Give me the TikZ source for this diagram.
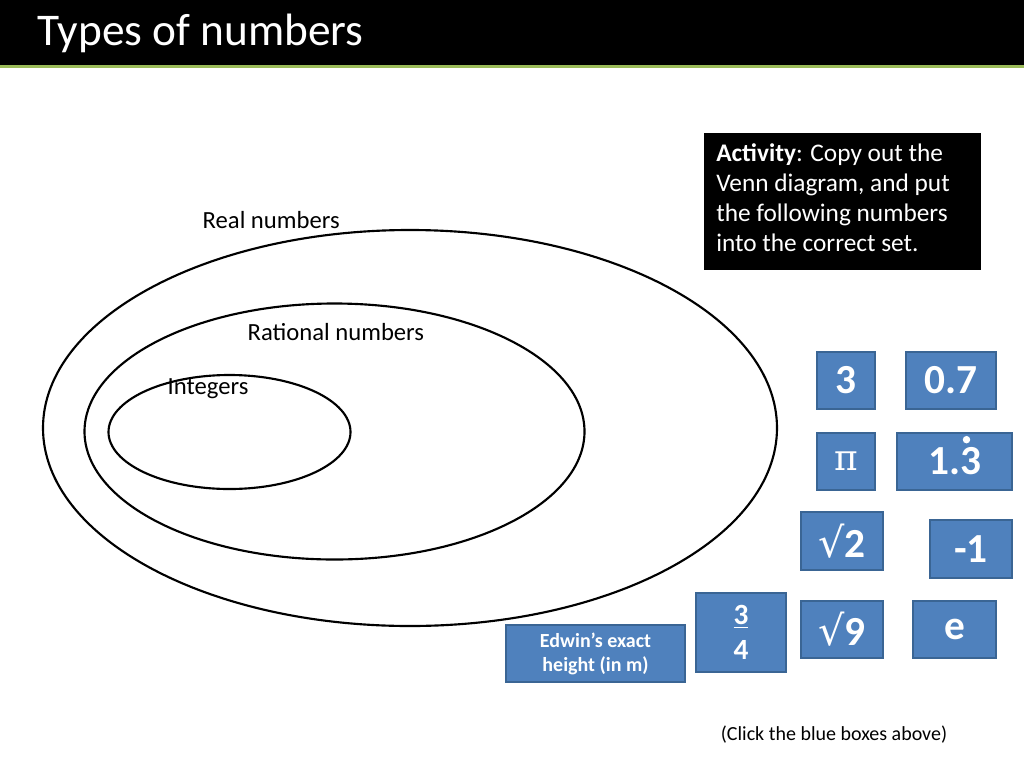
\documentclass[tikz,border=0pt]{standalone}
\usepackage{fontspec}
\setmainfont{Carlito}
\newfontfamily\symfont{DejaVu Serif}
\newfontfamily\rootfont{DejaVu Sans}
\definecolor{bluebox}{HTML}{4F81BD}
\definecolor{blueedge}{HTML}{3A6594}
\definecolor{greenline}{HTML}{9BBB59}
\begin{document}
\begin{tikzpicture}[x=0.75pt,y=-0.75pt,
  nb/.style={draw=blueedge,line width=1.5pt,fill=bluebox,text=white,font=\fontsize{31}{33}\selectfont\bfseries,inner sep=0pt},
  lbl/.style={anchor=west,font=\fontsize{18.5}{22}\selectfont},
  venn/.style={draw=black,line width=1.6pt}]
\useasboundingbox (0,0) rectangle (1024,768);
\fill[black] (0,0) rectangle (1024,65);
\fill[greenline] (0,65) rectangle (1024,68);
\node[anchor=west,text=white,font=\fontsize{34}{38}\selectfont] (title) at (33,33) {Types of numbers};
\node[fill=black,text=white,anchor=north west,minimum width=207.75pt,minimum height=102.75pt,inner sep=0pt] (act) at (704,133) {};
\node[anchor=north west,text=white,align=left,font=\fontsize{19}{22.5}\selectfont,inner sep=0pt] (acttext) at (716,143)
  {\textbf{Activity}: Copy out the\\Venn diagram, and put\\the following numbers\\into the correct set.};
\draw[venn] (410,428) ellipse [x radius=367, y radius=198];
\draw[venn] (334.5,431.5) ellipse [x radius=250, y radius=128];
\draw[venn] (229.5,432) ellipse [x radius=121, y radius=57];
\node[lbl] (real) at (198,220) {Real numbers};
\node[lbl] (rat) at (243,332) {Rational numbers};
\node[lbl] (int) at (163,389) {Integers};
\node[nb,minimum width=43.5pt,minimum height=42.75pt] (b3) at (846,380) {3};
\node[nb,minimum width=67.5pt,minimum height=42.75pt] (b07) at (951,380) {0.7};
\node[nb,minimum width=43.5pt,minimum height=42.75pt] (bpi) at (846,461) {\symfont\mdseries\fontsize{27}{29}\selectfont π};
\node[nb,minimum width=86pt,minimum height=42.75pt] (b13) at (954.5,461) {1.3};
\fill[white] ([xshift=9pt,yshift=16pt]b13.center) circle (2.8pt);
\node[nb,minimum width=61.5pt,minimum height=43.5pt] (bs2) at (842,541) {{\rootfont\mdseries √}2};
\node[nb,minimum width=61.5pt,minimum height=43.5pt] (bm1) at (971,549) {-1};
\node[nb,minimum width=67.5pt,minimum height=59pt,align=center,font=\fontsize{22}{24}\selectfont\bfseries] (b34) at (741,632.5) {\underline{3}\\[2pt]4};
\node[nb,minimum width=61.5pt,minimum height=42.75pt] (bs9) at (842,629.5) {{\rootfont\mdseries √}9};
\node[nb,minimum width=62pt,minimum height=42.75pt] (be) at (954.5,629.5) {e};
\node[nb,minimum width=134pt,minimum height=42.75pt,font=\fontsize{15}{18}\selectfont\bfseries,align=center] (bed) at (595.5,653.5) {Edwin’s exact\\height (in m)};
\node[font=\fontsize{15}{18}\selectfont] (click) at (834,735) {(Click the blue boxes above)};
\end{tikzpicture}
\end{document}
